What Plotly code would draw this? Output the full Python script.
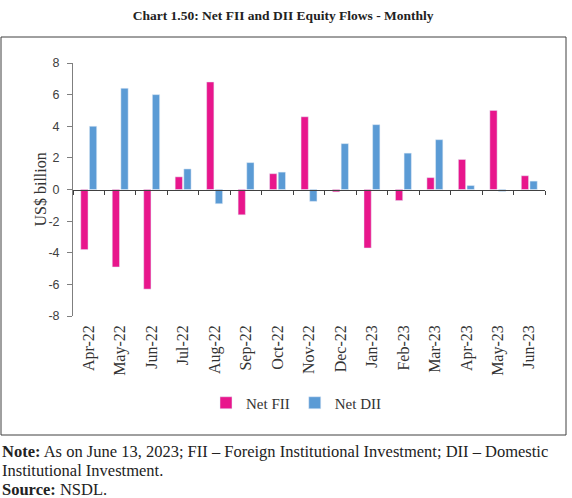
import plotly.graph_objects as go

months = ["Apr-22", "May-22", "Jun-22", "Jul-22", "Aug-22", "Sep-22", "Oct-22", "Nov-22",
          "Dec-22", "Jan-23", "Feb-23", "Mar-23", "Apr-23", "May-23", "Jun-23"]
net_fii = [-3.8, -4.9, -6.3, 0.8, 6.8, -1.6, 1.0, 4.6, -0.15, -3.7, -0.7, 0.75, 1.9, 5.0, 0.87]
net_dii = [4.0, 6.4, 6.0, 1.3, -0.9, 1.7, 1.1, -0.75, 2.9, 4.1, 2.3, 3.15, 0.25, -0.12, 0.53]
y_ticks = [-8, -6, -4, -2, 0, 2, 4, 6, 8]
y_tick_labels = ["-8", "-6", "-4", "-2", "0", "2", "4", "6", "8"]

PINK = "#E8168C"
BLUE = "#5B9BD5"
SERIF = "Liberation Serif, Times New Roman, serif"
SANS = "Liberation Sans, Arial, sans-serif"

fig = go.Figure()
fig.add_trace(go.Bar(x=months, y=net_fii, name="Net FII", marker_color=PINK,
                     xaxis="x", yaxis="y"))
fig.add_trace(go.Bar(x=months, y=net_dii, name="Net DII", marker_color=BLUE,
                     xaxis="x", yaxis="y"))
# invisible trace for the zero-line axis with boundary ticks
fig.add_trace(go.Scatter(x=months, y=[0] * len(months), mode="lines",
                         line=dict(width=0), hoverinfo="skip", showlegend=False,
                         xaxis="x2", yaxis="y"))

W, H = 572, 498
L, R, T, B = 73, 27, 63, 182
pw = W - L - R
ph = H - T - B

def px_to_paper_x(px):
    return (px - L) / pw

def px_to_paper_y(py):
    return (H - B - py) / ph

fig.update_layout(
    width=W, height=H,
    margin=dict(l=L, r=R, t=T, b=B, autoexpand=False),
    paper_bgcolor="white", plot_bgcolor="white",
    barmode="group", bargap=0.45, bargroupgap=0.16,
    title=dict(text="<b>Chart 1.50: Net FII and DII Equity Flows - Monthly</b>",
               x=0.495, xanchor="center", y=1 - 15 / H, yanchor="middle",
               font=dict(family=SERIF, size=13.5, color="#222222")),
    xaxis=dict(type="category", showline=False, ticks="", showgrid=False, automargin=False,
               tickangle=-90, ticklabelstandoff=5,
               tickfont=dict(family=SERIF, size=16, color="#333333"),
               zeroline=False),
    xaxis2=dict(type="category", overlaying="x", matches="x", anchor="free", position=0.5,
                showline=True, linecolor="#404040", linewidth=1, ticks="outside",
                tickson="boundaries", ticklen=4, tickcolor="#404040", automargin=False,
                showticklabels=False, showgrid=False, zeroline=False),
    yaxis=dict(range=[-8, 8], tickvals=y_ticks, ticktext=y_tick_labels,
               showline=True, linecolor="#7f7f7f",
               linewidth=1, ticks="outside", ticklen=5, tickcolor="#7f7f7f",
               ticklabelstandoff=5, automargin=False,
               showgrid=False, zeroline=False,
               tickfont=dict(family=SANS, size=12.5, color="#404040")),
    legend=dict(orientation="h", xref="container", yref="container",
                x=296 / W, xanchor="center", y=1 - 403 / H,
                yanchor="middle", font=dict(family=SERIF, size=15, color="#333333"),
                itemwidth=30, traceorder="normal"),
    showlegend=True,
)

# y-axis title
fig.add_annotation(text="US$ billion", xref="paper", yref="paper",
                   x=px_to_paper_x(40), y=0.5, xanchor="center", yanchor="middle",
                   textangle=-90, showarrow=False,
                   font=dict(family=SERIF, size=16, color="#333333"))

fig.add_shape(type="rect", xref="paper", yref="paper",
              x0=px_to_paper_x(1), x1=px_to_paper_x(566),
              y0=px_to_paper_y(435), y1=px_to_paper_y(37),
              line=dict(color="#404040", width=1), fillcolor="rgba(0,0,0,0)", layer="below")

notes = [
    ("<b>Note:</b> As on June 13, 2023; FII – Foreign Institutional Investment; DII – Domestic", 451),
    ("Institutional Investment.", 470),
    ("<b>Source:</b> NSDL.", 489),
]
for txt, py in notes:
    fig.add_annotation(text=txt, xref="paper", yref="paper",
                       x=px_to_paper_x(0), y=px_to_paper_y(py), xanchor="left", yanchor="middle",
                       showarrow=False, align="left",
                       font=dict(family=SERIF, size=16.5, color="#222222"))

fig.write_html("out.html", config={"displayModeBar": False},
               post_script="document.body.style.margin='0';document.body.style.padding='0';")
